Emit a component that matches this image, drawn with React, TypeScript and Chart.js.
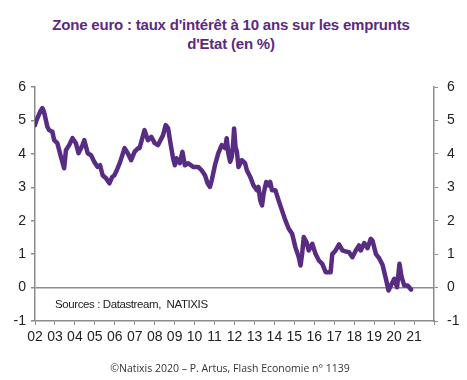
import React, { useEffect, useRef } from "react";
import { Chart, registerables } from "chart.js";

Chart.register(...registerables);

// Decimal years (2002 = start of 2002)
const years: number[] = [
  2002.0, 2002.07, 2002.29, 2002.37, 2002.45, 2002.62, 2002.71, 2002.87, 2002.96,
  2003.12, 2003.3, 2003.46, 2003.55, 2003.71, 2003.88, 2004.05, 2004.18, 2004.38,
  2004.47, 2004.64, 2004.81, 2004.97, 2005.14, 2005.26, 2005.39, 2005.56, 2005.73,
  2005.87, 2005.98, 2006.1, 2006.27, 2006.49, 2006.65, 2006.82, 2006.99, 2007.16,
  2007.24, 2007.49, 2007.66, 2007.83, 2008.0, 2008.16, 2008.42, 2008.55, 2008.67,
  2008.79, 2008.92, 2009.01, 2009.09, 2009.26, 2009.39, 2009.51, 2009.68, 2009.93,
  2010.18, 2010.35, 2010.52, 2010.65, 2010.77, 2010.86, 2011.02, 2011.19, 2011.36,
  2011.53, 2011.61, 2011.69, 2011.78, 2011.86, 2011.93, 2011.98, 2012.05, 2012.12,
  2012.2, 2012.37, 2012.53, 2012.62, 2012.79, 2012.95, 2013.12, 2013.2, 2013.29,
  2013.38, 2013.46, 2013.59, 2013.71, 2013.79, 2013.88, 2014.05, 2014.21, 2014.38,
  2014.55, 2014.72, 2014.89, 2015.05, 2015.22, 2015.31, 2015.39, 2015.47, 2015.61,
  2015.72, 2015.9, 2016.06, 2016.23, 2016.4, 2016.57, 2016.82, 2016.9, 2017.07,
  2017.24, 2017.41, 2017.57, 2017.74, 2017.91, 2018.08, 2018.24, 2018.33, 2018.5,
  2018.67, 2018.83, 2018.92, 2019.09, 2019.25, 2019.42, 2019.59, 2019.72, 2019.84,
  2020.01, 2020.15, 2020.27, 2020.38, 2020.51, 2020.68, 2020.85,
];

// 10-year government bond yield, euro area (%)
const rates: number[] = [
  4.86, 5.0, 5.3, 5.37, 5.26, 4.81, 4.71, 4.66, 4.41,
  4.32, 3.91, 3.57, 4.11, 4.26, 4.47, 4.32, 4.02, 4.26,
  4.41, 4.02, 3.96, 3.76, 3.61, 3.66, 3.36, 3.27, 3.12,
  3.31, 3.36, 3.51, 3.76, 4.17, 4.02, 3.81, 4.06, 4.17,
  4.17, 4.71, 4.41, 4.51, 4.32, 4.26, 4.56, 4.86, 4.77,
  4.32, 3.87, 3.66, 3.87, 3.72, 4.06, 3.66, 3.72, 3.61,
  3.61, 3.51, 3.36, 3.12, 3.01, 3.21, 3.66, 4.02, 4.26,
  4.17, 4.47, 4.02, 3.76, 3.9, 4.3, 4.76, 4.21, 4.06,
  3.61, 3.81, 3.72, 3.51, 3.31, 3.06, 2.91, 3.01, 2.61,
  2.46, 2.81, 3.16, 3.06, 3.16, 2.91, 2.91, 2.61, 2.31,
  2.01, 1.76, 1.61, 1.21, 0.91, 0.66, 1.01, 1.51, 1.36,
  1.11, 1.31, 1.01, 0.81, 0.71, 0.46, 0.46, 1.0, 1.11,
  1.29, 1.11, 1.08, 1.06, 0.91, 1.11, 1.26, 1.11, 1.33,
  1.18, 1.46, 1.4, 1.0, 0.88, 0.68, 0.26, -0.09, 0.06,
  0.26, 0.01, 0.71, 0.3, 0.06, 0.06, -0.06,
];

const yearTicks: number[] = [
  2002, 2003, 2004, 2005, 2006, 2007, 2008, 2009, 2010, 2011, 2012,
  2013, 2014, 2015, 2016, 2017, 2018, 2019, 2020, 2021, 2022,
];
const yearLabels: string[] = [
  "02", "03", "04", "05", "06", "07", "08", "09", "10", "11", "12",
  "13", "14", "15", "16", "17", "18", "19", "20", "21", "",
];
const yTicks: number[] = [-1, 0, 1, 2, 3, 4, 5, 6];

const titleLines: string[] = [
  "Zone euro : taux d'intérêt à 10 ans sur les emprunts",
  "d'Etat (en %)",
];
const sourceText = "Sources : Datastream,  NATIXIS";
const footerText = "©Natixis 2020 – P. Artus, Flash Economie n° 1139";

const AXIS = "#8c8c8c";
const LINE = "#582c83";

export default function App() {
  const ref = useRef<HTMLCanvasElement | null>(null);

  useEffect(() => {
    if (!ref.current) return;
    const points = years.map((x, i) => ({ x, y: rates[i] }));
    const tickFont = { family: "'Liberation Sans', Arial, sans-serif", size: 14 };

    const chart = new Chart(ref.current, {
      type: "line",
      data: {
        datasets: [
          {
            data: points,
            borderColor: LINE,
            borderWidth: 4.5,
            pointRadius: 0,
            tension: 0,
            borderJoinStyle: "round",
            borderCapStyle: "round",
          },
        ],
      },
      options: {
        animation: false,
        responsive: false,
        maintainAspectRatio: false,
        parsing: false as any,
        layout: { padding: { top: 87, right: 0, left: 0, bottom: 0 } },
        plugins: {
          legend: { display: false },
          tooltip: { enabled: false },
          title: { display: false },
        },
        scales: {
          x: {
            type: "linear",
            min: 2002,
            max: 2022,
            afterBuildTicks: (axis: any) => {
              axis.ticks = yearTicks.map((v) => ({ value: v }));
            },
            afterFit: (axis: any) => {
              axis.height = 59;
            },
            ticks: {
              autoSkip: false,
              maxRotation: 0,
              padding: 4,
              color: "#222",
              font: tickFont,
              callback: (v: any) => {
                const i = yearTicks.indexOf(Number(v));
                return i >= 0 ? yearLabels[i] : "";
              },
            },
            grid: {
              drawOnChartArea: false,
              drawTicks: true,
              tickLength: 4,
              tickColor: AXIS,
            },
            border: { display: true, color: AXIS, width: 1.5 },
          },
          y: {
            type: "linear",
            position: "left",
            min: -1,
            max: 6,
            afterBuildTicks: (axis: any) => {
              axis.ticks = yTicks.map((v) => ({ value: v }));
            },
            afterFit: (axis: any) => {
              axis.width = 35;
            },
            ticks: {
              padding: 5,
              color: "#222",
              font: tickFont,
            },
            grid: {
              drawOnChartArea: true,
              drawTicks: true,
              tickLength: 4,
              tickColor: AXIS,
              lineWidth: 1.5,
              color: (ctx: any) =>
                ctx.tick && ctx.tick.value === 0 ? AXIS : "rgba(0,0,0,0)",
            },
            border: { display: true, color: AXIS, width: 1.5 },
          },
          y2: {
            type: "linear",
            position: "right",
            min: -1,
            max: 6,
            afterBuildTicks: (axis: any) => {
              axis.ticks = yTicks.map((v) => ({ value: v }));
            },
            afterFit: (axis: any) => {
              axis.width = 33;
            },
            ticks: {
              padding: 9,
              color: "#222",
              font: tickFont,
            },
            grid: {
              drawOnChartArea: false,
              drawTicks: true,
              tickLength: 4,
              tickColor: AXIS,
            },
            border: { display: true, color: AXIS, width: 1.5 },
          },
        },
      },
    });
    return () => chart.destroy();
  }, []);

  return (
    <div
      style={{
        position: "fixed",
        left: 0,
        top: 0,
        width: 467,
        height: 380,
        background: "#fff",
      }}
    >
      <div
        style={{
          position: "absolute",
          left: 0,
          top: 15,
          width: 462,
          textAlign: "center",
          fontFamily: "'Liberation Sans', Arial, sans-serif",
          fontWeight: "bold",
          fontSize: 15,
          lineHeight: "19px",
          color: "#5c2a80",
          letterSpacing: -0.2,
        }}
      >
        {titleLines.map((t, i) => (
          <div key={i}>{t}</div>
        ))}
      </div>
      <canvas
        ref={ref}
        width={467}
        height={380}
        style={{ position: "absolute", left: 0, top: 0, width: 467, height: 380 }}
      />
      <div
        style={{
          position: "absolute",
          left: 55,
          top: 298,
          fontFamily: "'Liberation Sans', Arial, sans-serif",
          fontSize: 11.5,
          color: "#222",
          whiteSpace: "pre",
          letterSpacing: -0.4,
        }}
      >
        {sourceText}
      </div>
      <div
        style={{
          position: "absolute",
          left: 0,
          top: 361,
          width: 460,
          textAlign: "center",
          fontFamily: "'Open Sans', sans-serif",
          fontSize: 10.5,
          color: "#333",
        }}
      >
        {footerText}
      </div>
    </div>
  );
}
